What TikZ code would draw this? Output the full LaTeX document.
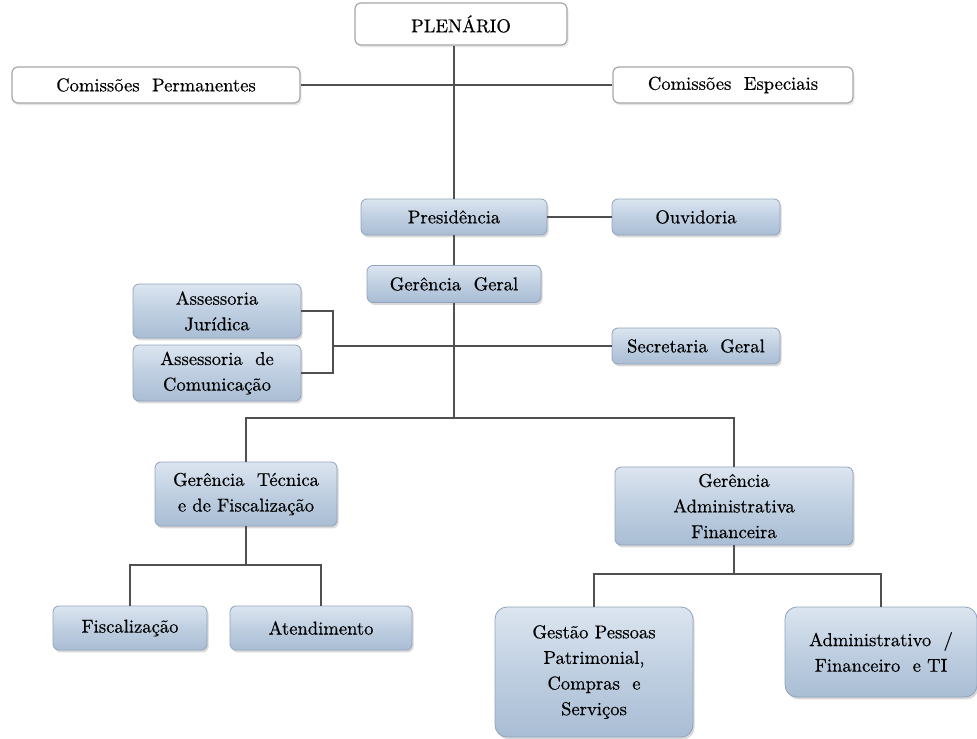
\documentclass[tikz,border=0pt]{standalone}
\usepackage{fontspec}
\newfontfamily\orgfont{lmroman10-regular}[Extension=.otf, FakeBold=0.45]
\usetikzlibrary{shadows}
\definecolor{boxtop}{HTML}{DCE5F0}
\definecolor{boxmid}{HTML}{BFCFE1}
\definecolor{boxbot}{HTML}{A9BDD4}
\definecolor{boxline}{HTML}{8FA3BA}
\definecolor{linkgray}{HTML}{505050}
\tikzset{
  whitebox/.style={shape=rectangle, rounded corners=3pt, draw=gray!70, fill=white, line width=0.6pt,
    drop shadow={opacity=0.18, shadow xshift=0.8pt, shadow yshift=-1.2pt}},
  bluebox/.style={shape=rectangle, rounded corners=3pt, draw=boxline, line width=0.4pt,
    top color=boxtop, bottom color=boxbot, middle color=boxmid, align=center,
    drop shadow={opacity=0.3, shadow xshift=0.8pt, shadow yshift=-1.2pt}},
  link/.style={-, draw=linkgray, line width=0.7pt}
}
\begin{document}
\begin{tikzpicture}[x=0.5pt, y=-0.5pt, font=\orgfont\fontsize{9.3}{12.8}\selectfont]
\useasboundingbox (0,0) rectangle (977,738);
\node[whitebox, minimum width=106pt, minimum height=21pt] (plen) at (461,24) {PLENÁRIO};
\node[whitebox, minimum width=144pt, minimum height=18pt] (cp) at (156,85) {Comissões\ \ Permanentes};
\node[whitebox, minimum width=120pt, minimum height=18pt] (ce) at (733,85) {Comissões\ \ Especiais};
\node[bluebox, minimum width=93pt, minimum height=18pt] (pres) at (454,217) {Presidência};
\node[bluebox, minimum width=84pt, minimum height=18pt] (ouv) at (696,217) {Ouvidoria};
\node[bluebox, minimum width=87pt, minimum height=18.5pt] (gg) at (454,284) {Gerência\ \ Geral};
\node[bluebox, minimum width=84pt, minimum height=27pt] (asj) at (217,311) {Assessoria\\Jurídica};
\node[bluebox, minimum width=84pt, minimum height=25pt] (asc) at (217,373) {Assessoria\ \ de\\Comunicação};
\node[bluebox, minimum width=84pt, minimum height=18pt] (sec) at (696,346) {Secretaria\ \ Geral};
\node[bluebox, minimum width=91pt, minimum height=32pt] (gtf) at (246,494) {Gerência\ \ Técnica\\e de Fiscalização};
\node[bluebox, minimum width=119pt, minimum height=36pt] (gaf) at (734,506) {Gerência\\Administrativa\\Financeira};
\node[bluebox, minimum width=77pt, minimum height=22pt] (fis) at (130,628) {Fiscalização};
\node[bluebox, minimum width=91pt, minimum height=22pt] (ate) at (321,628) {Atendimento};
\node[bluebox, rounded corners=6pt, minimum width=99pt, minimum height=65pt] (gps) at (594,672) {Gestão Pessoas\\Patrimonial,\\Compras\ \ e\\Serviços};
\node[bluebox, rounded corners=6pt, minimum width=96pt, minimum height=45pt] (adm) at (881,652) {Administrativo\ \ /\\Financeiro\ \ e TI};
% junctions
\coordinate (jb) at (333,346);
\coordinate (j1) at (454,418);
\coordinate (j2) at (246,565);
\coordinate (j3) at (734,574);
% links
\path [link] (cp) edge (ce);
\path [link] (pres.north |- plen.south) edge (pres.north);
\path [link] (pres) edge (ouv);
\path [link] (pres) edge (gg);
\path [link] (gg) edge (j1);
\draw [link] (asj.east) -| (jb) |- (asc.east);
\path [link] (jb) edge (sec.west);
\draw [link] (gtf.north) |- (j1) -| (gaf.north);
\path [link] (gtf) edge (j2);
\draw [link] (fis.north) |- (j2) -| (ate.north);
\path [link] (gaf) edge (j3);
\draw [link] (gps.north) |- (j3) -| (adm.north);
\end{tikzpicture}
\end{document}
